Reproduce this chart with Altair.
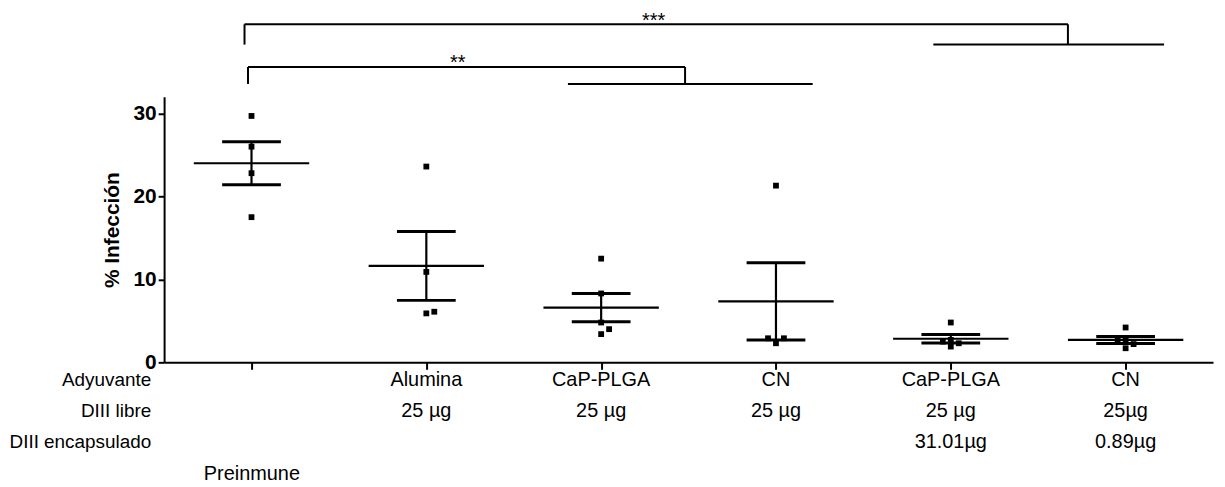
import altair as alt
import pandas as pd
import numpy as np

# ---------------- data ----------------
groups = ["Preinmune", "Alumina", "CaP-PLGA", "CN", "CaP-PLGA enc", "CN enc"]
preinmune = [29.7, 26.0, 22.8, 17.5]
alumina = [23.6, 10.9, 6.1, 5.9]
cap_plga = [12.5, 8.3, 4.8, 4.0, 3.4]
cn = [21.3, 2.9, 2.9, 2.3]
cap_plga_enc = [4.8, 2.7, 2.5, 2.3, 1.9]
cn_enc = [4.2, 2.8, 2.6, 2.2, 1.7]
series = [preinmune, alumina, cap_plga, cn, cap_plga_enc, cn_enc]

row_titles = ["Adyuvante", "DIII libre", "DIII encapsulado"]
adyuvante = ["", "Alumina", "CaP-PLGA", "CN", "CaP-PLGA", "CN"]
diii_libre = ["", "25 µg", "25 µg", "25 µg", "25 µg", "25µg"]
diii_encapsulado = ["", "", "", "", "31.01µg", "0.89µg"]
preinmune_label = "Preinmune"

y_ticks = [0, 10, 20, 30]
y_title = "% Infección"

# significance brackets (x in group units, y in % units)
sig_labels = ["***", "**"]
sig_left = [-0.04, -0.02]
sig_right = [4.67, 2.48]
sig_top = [40.75, 35.6]
sig_bottom = [38.3, 33.56]
sig_sub_from = [3.90, 1.81]
sig_sub_to = [5.22, 3.21]
sig_label_x = [2.30, 1.18]

FONT = "Liberation Sans"

# ---------------- derived tables ----------------
pts = []
spread = 0.0455
for gi, vals in enumerate(series):
    placed = []
    for v in sorted(vals):
        chosen = 0
        for off in [0, 1, -1, 2, -2]:
            if all(abs(v - pv) >= 0.72 or o != off for pv, o in placed):
                chosen = off
                break
        placed.append((v, chosen))
        pts.append({"g": gi, "value": v, "x": gi + chosen * spread})
df_pts = pd.DataFrame(pts)

summ = []
for gi, vals in enumerate(series):
    a = np.array(vals)
    m = a.mean()
    s = a.std(ddof=1) / np.sqrt(len(a))
    summ.append({"g": gi, "mean": m, "lo": m - s, "hi": m + s,
                 "ml": gi - 0.33, "mr": gi + 0.33,
                 "cl": gi - 0.168, "cr": gi + 0.168})
df_sum = pd.DataFrame(summ)
df_caps = pd.concat([
    df_sum[["g", "cl", "cr"]].assign(y=df_sum["lo"]),
    df_sum[["g", "cl", "cr"]].assign(y=df_sum["hi"]),
])

segs = []
for i in range(len(sig_labels)):
    segs.append({"x": sig_left[i], "x2": sig_right[i], "y": sig_top[i], "y2": sig_top[i]})
    segs.append({"x": sig_left[i], "x2": sig_left[i], "y": sig_top[i], "y2": sig_bottom[i]})
    segs.append({"x": sig_right[i], "x2": sig_right[i], "y": sig_top[i], "y2": sig_bottom[i]})
    segs.append({"x": sig_sub_from[i], "x2": sig_sub_to[i], "y": sig_bottom[i], "y2": sig_bottom[i]})
df_segs = pd.DataFrame(segs)
df_sig = pd.DataFrame({"x": sig_label_x, "y": [t - 0.3 for t in sig_top], "label": sig_labels})

df_tab = pd.DataFrame({"g": list(range(len(groups))), "ady": adyuvante,
                       "lib": diii_libre, "enc": diii_encapsulado})

# ---------------- scales / axes ----------------
xscale = alt.Scale(domain=[-0.5, len(groups) - 0.5], nice=False, zero=False)
yscale = alt.Scale(domain=[0, 32], nice=False, zero=False)
xaxis = alt.Axis(values=list(range(len(groups))), labels=False, title=None, grid=False,
                 ticks=True, tickSize=7, tickWidth=2, tickColor="black",
                 domainWidth=2, domainColor="black")
yaxis = alt.Axis(values=y_ticks, title=y_title, grid=False, tickSize=6, tickWidth=2,
                 tickColor="black", domainWidth=2, domainColor="black",
                 labelFont=FONT, labelFontSize=21, labelFontWeight="bold", labelColor="black",
                 labelPadding=2, titleFont=FONT, titleFontSize=21, titleFontWeight="bold",
                 titleColor="black", titlePadding=11)


def X(f):
    return alt.X(f, scale=xscale, axis=xaxis, title=None)


def Y(f):
    return alt.Y(f, scale=yscale, axis=yaxis, title=y_title)


points = alt.Chart(df_pts).mark_square(size=34, color="black", opacity=1).encode(
    x=X("x:Q"), y=Y("value:Q"))
mean_line = alt.Chart(df_sum).mark_rule(color="black", strokeWidth=2.2).encode(
    x=X("ml:Q"), x2="mr:Q", y=Y("mean:Q"))
caps = alt.Chart(df_caps).mark_rule(color="black", strokeWidth=3).encode(
    x=X("cl:Q"), x2="cr:Q", y=Y("y:Q"))
vert = alt.Chart(df_sum).mark_rule(color="black", strokeWidth=2.2).encode(
    x=X("g:Q"), y=Y("lo:Q"), y2="hi:Q")
brackets = alt.Chart(df_segs).mark_rule(color="black", strokeWidth=2).encode(
    x=X("x:Q"), x2="x2:Q", y=Y("y:Q"), y2="y2:Q")
sig_text = alt.Chart(df_sig).mark_text(font=FONT, fontSize=20, color="black",
                                       baseline="alphabetic", align="center").encode(
    x=X("x:Q"), y=Y("y:Q"), text="label:N")

row_y = [285, 316, 347]
tab_layers = []
for field, yy in zip(["ady", "lib", "enc"], row_y):
    tab_layers.append(
        alt.Chart(df_tab).mark_text(font=FONT, fontSize=20, color="black",
                                    baseline="middle", align="center").encode(
            x=X("g:Q"), y=alt.value(yy), text=f"{field}:N"))
for label, yy in zip(row_titles, row_y):
    tab_layers.append(
        alt.Chart(pd.DataFrame({"label": [label]})).mark_text(
            font=FONT, fontSize=19, color="black", baseline="middle", align="right").encode(
            x=alt.value(-13), y=alt.value(yy), text="label:N"))
pre_text = alt.Chart(pd.DataFrame({"label": [preinmune_label]})).mark_text(
    font=FONT, fontSize=20, color="black", baseline="middle", align="left").encode(
    x=alt.value(40), y=alt.value(379), text="label:N")

chart = alt.layer(points, mean_line, caps, vert, brackets, sig_text, *tab_layers,
                  pre_text).properties(
    width=1055, height=267,
    autosize=alt.AutoSizeParams(type="none"),
    padding={"left": 157, "top": 88, "right": 4, "bottom": 124},
    background="white",
).configure_view(stroke=None)

chart.save("out.html", embed_options={"renderer": "svg", "actions": False})
